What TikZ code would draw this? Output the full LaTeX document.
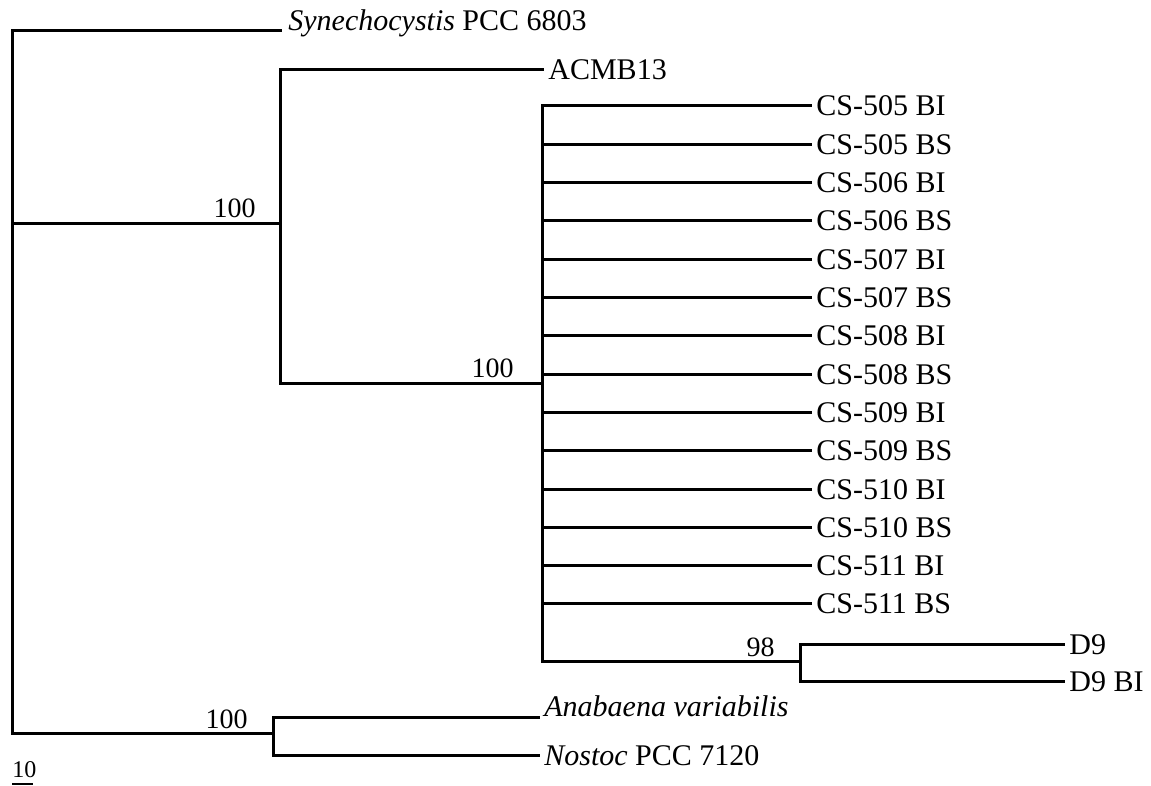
\documentclass[tikz,border=0pt]{standalone}
\usepackage{fontspec}
\setmainfont{Liberation Serif}
\usetikzlibrary{positioning}

\begin{document}
\begin{tikzpicture}[
      x=0.5pt, y=-0.5pt,
      branch/.style={line width=1.5pt, line cap=rect},
      leaf/.style={anchor=west, inner xsep=3pt, inner ysep=0pt, text height=10pt, text depth=0pt, font=\fontsize{15}{18}\selectfont},
      boot/.style={inner sep=0pt, font=\fontsize{14}{16}\selectfont},
      scalelab/.style={inner sep=0pt, font=\fontsize{12}{14}\selectfont}
    ]
      \useasboundingbox (0,0) rectangle (1151,786);

      % Internal nodes of the tree
      \coordinate (root) at (12,224);
      \coordinate (n1) at (280,224);
      \coordinate (n2) at (542,383);
      \coordinate (n3) at (800,661);
      \coordinate (nn) at (273,733);

      % Outgroups and ACMB13
      \node[leaf, anchor=south west, inner xsep=4pt] (syn) at (280,31) {\textit{Synechocystis} PCC 6803};
      \node[leaf] (acmb) at (542,70) {ACMB13};
      \node[leaf, anchor=south west] (ana) at (538,717) {\textit{Anabaena variabilis}};
      \node[leaf] (nos) at (538,755) {\textit{Nostoc} PCC 7120};

      % CS isolates
      \foreach \n/\t [count=\i from 0] in {505/BI, 505/BS, 506/BI, 506/BS, 507/BI, 507/BS, 508/BI, 508/BS, 509/BI, 509/BS, 510/BI, 510/BS, 511/BI, 511/BS} {
        \node[leaf] (cs\i) at (810,{106+38.3*\i}) {CS-\n\ \t};
        \draw[branch] (n2) |- (cs\i.west);
      }

      % D9 pair
      \node[leaf] (d9) at (1063,644) {D9};
      \node[leaf] (d9bi) at (1063,681) {D9 BI};

      % Branches
      \draw[branch] (root) |- (syn.south west);
      \draw[branch] (root) -- (n1);
      \draw[branch] (root) |- (nn);
      \draw[branch] (n1) |- (acmb.west);
      \draw[branch] (n1) |- (n2);
      \draw[branch] (n2) |- (n3);
      \draw[branch] (n3) |- (d9.west);
      \draw[branch] (n3) |- (d9bi.west);
      \draw[branch] (nn) |- (ana.south west);
      \draw[branch] (nn) |- (nos.west);

      % Bootstrap values
      \node[boot, above left=3pt and 12pt of n1] (b1) {100};
      \node[boot, above left=2.5pt and 14pt of n2] (b2) {100};
      \node[boot, above left=2pt and 12.5pt of n3] (b3) {98};
      \node[boot, above left=2pt and 12.5pt of nn] (b4) {100};

      % Scale bar
      \coordinate (sb1) at (12,784);
      \coordinate (sb2) at (33,784);
      \draw[line width=1pt] (sb1) -- (sb2);
      \node[scalelab, above=3pt of sb1, anchor=south west] (sbl) {10};

    \end{tikzpicture}
\end{document}
